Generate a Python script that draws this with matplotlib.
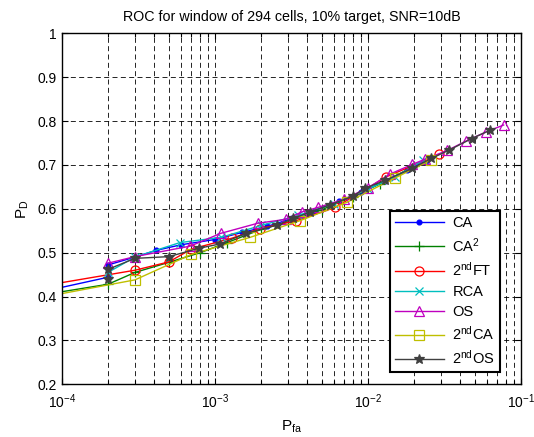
import matplotlib
matplotlib.use("Agg")
import matplotlib.pyplot as plt
from matplotlib.ticker import LogLocator, FixedLocator, NullFormatter

plt.rcParams['font.family'] = ['Liberation Sans', 'DejaVu Sans']
plt.rcParams['mathtext.fontset'] = 'custom'
plt.rcParams['mathtext.rm'] = 'Liberation Sans'
plt.rcParams['mathtext.it'] = 'Liberation Sans'
plt.rcParams['mathtext.bf'] = 'Liberation Sans:bold'

title = "ROC for window of 294 cells, 10% target, SNR=10dB"
labels = ["CA", "CA$^2$", "2$^{nd}$FT", "RCA", "OS", "2$^{nd}$CA", "2$^{nd}$OS"]

# CA
ca_x = [5e-5, 2e-4, 2e-4, 3e-4, 4.1e-4, 6e-4, 1e-3, 1.5e-3, 2.2e-3, 3.2e-3, 4.5e-3, 6.5e-3, 9e-3, 1.3e-2, 1.8e-2, 2.4e-2]
ca_y = [0.398, 0.444, 0.472, 0.490, 0.505, 0.518, 0.530, 0.546, 0.560, 0.578, 0.596, 0.617, 0.638, 0.663, 0.688, 0.710]
# CA^2
ca2_x = [5e-5, 2e-4, 3e-4, 5e-4, 8e-4, 1.2e-3, 2e-3, 3e-3, 5e-3, 8e-3, 1.2e-2, 2e-2]
ca2_y = [0.394, 0.428, 0.455, 0.478, 0.500, 0.523, 0.553, 0.570, 0.598, 0.628, 0.657, 0.697]
# 2nd FT
ft_x = [5e-5, 3e-4, 5e-4, 7e-4, 1.29e-3, 1.97e-3, 3.4e-3, 6.1e-3, 1.32e-2, 2.92e-2]
ft_y = [0.414, 0.460, 0.479, 0.508, 0.533, 0.555, 0.573, 0.603, 0.673, 0.724]
# RCA
rca_x = [2e-4, 3e-4, 5.9e-4, 1.1e-3, 2e-3, 3.5e-3, 6e-3, 1e-2, 1.5e-2, 2.3e-2]
rca_y = [0.455, 0.490, 0.523, 0.535, 0.562, 0.585, 0.612, 0.645, 0.672, 0.711]
# OS
os_x = [2e-4, 3e-4, 6.9e-4, 1.09e-3, 1.9e-3, 2.9e-3, 3.7e-3, 4.7e-3, 7e-3, 1e-2, 1.39e-2, 1.94e-2, 2.36e-2, 3.3e-2, 4.4e-2, 5.9e-2, 7.7e-2]
os_y = [0.476, 0.491, 0.515, 0.544, 0.567, 0.576, 0.593, 0.603, 0.622, 0.648, 0.679, 0.701, 0.713, 0.733, 0.755, 0.775, 0.791]
# 2nd CA
ca2nd_x = [5e-5, 3e-4, 7e-4, 1.7e-3, 3.6e-3, 7.3e-3, 1.5e-2, 2.6e-2]
ca2nd_y = [0.387, 0.438, 0.496, 0.535, 0.573, 0.615, 0.670, 0.712]
# 2nd OS
os2_x = [2e-4, 2e-4, 3e-4, 5e-4, 7.85e-4, 1.08e-3, 1.6e-3, 2.55e-3, 3.25e-3, 4.2e-3, 5.65e-3, 8e-3, 9.6e-3, 1.3e-2, 1.94e-2, 2.6e-2, 3.4e-2, 4.76e-2, 6.27e-2]
os2_y = [0.441, 0.462, 0.487, 0.491, 0.510, 0.520, 0.544, 0.563, 0.578, 0.593, 0.609, 0.629, 0.647, 0.665, 0.692, 0.715, 0.734, 0.760, 0.779]

series = [
    (ca_x, ca_y, (0, 0, 1), '.', 7, 'full'),
    (ca2_x, ca2_y, (0, 0.5, 0), '+', 7, 'full'),
    (ft_x, ft_y, (1, 0, 0), 'o', 6.5, 'none'),
    (rca_x, rca_y, (0, 0.75, 0.75), 'x', 6, 'full'),
    (os_x, os_y, (0.75, 0, 0.75), '^', 7, 'none'),
    (ca2nd_x, ca2nd_y, (0.75, 0.75, 0), 's', 6.5, 'none'),
    (os2_x, os2_y, (0.25, 0.25, 0.25), '*', 7, 'full'),
]

fig = plt.figure(figsize=(5.34, 4.37), dpi=100)
ax = fig.add_axes([0.116, 0.1206, 0.8597, 0.8032])

for (xs, ys, c, m, ms, fs), lab in zip(series, labels):
    ax.plot(xs, ys, color=c, marker=m, markersize=ms, fillstyle=fs,
            markerfacecolor=(c if fs == 'full' else 'none'),
            linewidth=1.0, markeredgewidth=0.9, label=lab)

ax.set_xscale('log')
ax.set_xlim(1e-4, 1e-1)
ax.set_ylim(0.2, 1.0)
ax.set_yticks([0.2, 0.3, 0.4, 0.5, 0.6, 0.7, 0.8, 0.9, 1.0])
ax.set_yticklabels(['0.2', '0.3', '0.4', '0.5', '0.6', '0.7', '0.8', '0.9', '1'])
ax.xaxis.set_major_locator(FixedLocator([1e-4, 1e-3, 1e-2, 1e-1]))
ax.set_xticklabels(['10$^{-4}$', '10$^{-3}$', '10$^{-2}$', '10$^{-1}$'])
ax.xaxis.set_minor_locator(LogLocator(base=10, subs=range(2, 10)))
ax.xaxis.set_minor_formatter(NullFormatter())

ax.tick_params(which='both', direction='in', top=True, right=True, labelsize=10, width=0.8)
ax.tick_params(which='major', length=4)
ax.tick_params(which='minor', length=3)
ax.tick_params(axis='x', which='major', pad=6)

ax.grid(True, which='major', axis='both', linestyle=(0, (6, 4)), color='black', linewidth=0.6)
ax.grid(True, which='minor', axis='x', linestyle=(0, (6, 4)), color='black', linewidth=0.6)

for s in ax.spines.values():
    s.set_linewidth(1.0)

ax.set_title(title, fontsize=10.3, pad=9)
ax.set_xlabel('P$_{\\mathrm{fa}}$', fontsize=11, labelpad=5)
ax.set_ylabel('P$_{\\mathrm{D}}$', fontsize=11, labelpad=5)

leg = ax.legend(loc='lower right', bbox_to_anchor=(0.954, 0.035), fontsize=10.5,
                fancybox=False, framealpha=1, edgecolor='black', handlelength=3.3,
                borderpad=0.35, labelspacing=0.42, handletextpad=0.6, borderaxespad=0)
leg.get_frame().set_linewidth(1.5)

fig.savefig('out.png', dpi=100)
